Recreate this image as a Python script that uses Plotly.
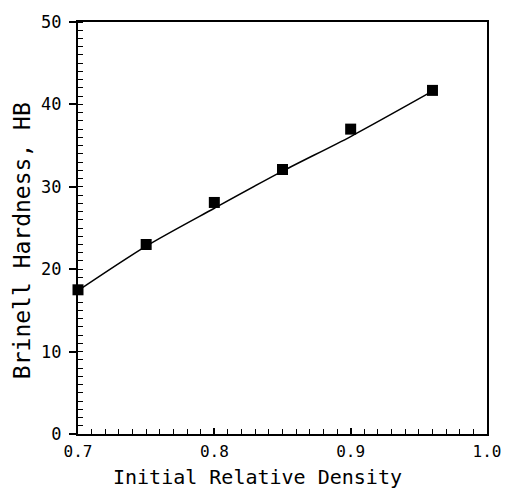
import plotly.graph_objects as go

# Measured data points
density = [0.70, 0.75, 0.80, 0.85, 0.90, 0.96]
hardness = [17.5, 23.0, 28.1, 32.1, 37.0, 41.7]

# Fitted curve
fit_density = [0.70, 0.75, 0.80, 0.85, 0.90, 0.96]
fit_hardness = [17.4, 22.8, 27.4, 31.9, 36.1, 41.6]

x_title = "Initial Relative Density"
y_title = "Brinell Hardness, HB"
x_ticks = [0.7, 0.8, 0.9, 1.0]
x_ticklabels = ["0.7", "0.8", "0.9", "1.0"]
y_ticks = [0, 10, 20, 30, 40, 50]

FONT = "DejaVu Sans Mono"

fig = go.Figure()
fig.add_trace(go.Scatter(
    x=fit_density, y=fit_hardness, mode="lines",
    line=dict(color="black", width=1.5, shape="spline", smoothing=0.8),
    showlegend=False, hoverinfo="skip", cliponaxis=False,
))
fig.add_trace(go.Scatter(
    x=density, y=hardness, mode="markers",
    marker=dict(symbol="square", size=11, color="black"),
    showlegend=False, cliponaxis=False,
))

fig.update_layout(
    width=513, height=491,
    margin=dict(l=78, r=23, t=12, b=57),
    paper_bgcolor="white", plot_bgcolor="white",
    font=dict(family=FONT, color="black", size=17),
    xaxis=dict(
        range=[0.7, 1.0], tickvals=x_ticks, ticktext=x_ticklabels,
        showgrid=False, zeroline=False,
        showline=True, linecolor="black", linewidth=2, mirror=True,
        ticks="inside", ticklen=6, tickwidth=1.5, tickcolor="black",
        ticklabelstandoff=2,
        tickfont=dict(family=FONT, size=16, color="black"),
        minor=dict(dtick=0.01, tick0=0.7, ticks="inside", ticklen=5,
                   tickwidth=1.2, tickcolor="black"),
    ),
    yaxis=dict(
        range=[0, 50], tickvals=y_ticks,
        showgrid=False, zeroline=False,
        showline=True, linecolor="black", linewidth=2, mirror=True,
        ticks="outside", ticklen=7, tickwidth=1.5, tickcolor="black",
        ticklabelstandoff=4,
        tickfont=dict(family=FONT, size=17, color="black"),
        minor=dict(dtick=1, tick0=0, ticks="inside", ticklen=5,
                   tickwidth=1.2, tickcolor="black"),
    ),
    annotations=[
        dict(text=x_title, xref="paper", yref="paper", x=0.44, y=-0.105,
             xanchor="center", yanchor="middle", showarrow=False,
             font=dict(family=FONT, size=20, color="black")),
        dict(text=y_title, xref="paper", yref="paper", x=-0.135, y=0.47,
             xanchor="center", yanchor="middle", showarrow=False, textangle=-90,
             font=dict(family=FONT, size=23, color="black")),
    ],
)

fig.write_html("out.html")
